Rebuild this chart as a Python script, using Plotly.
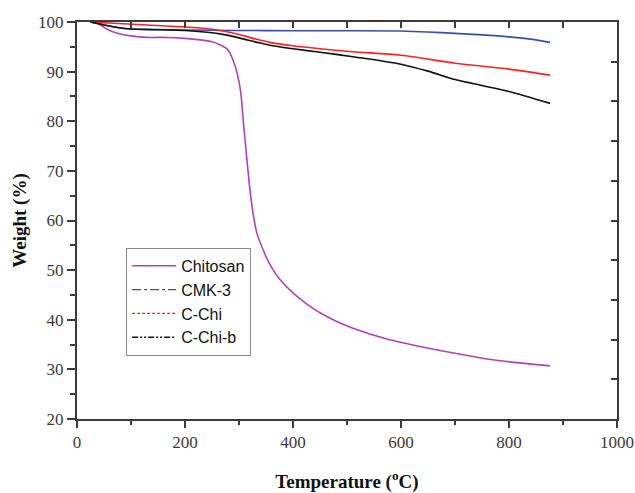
import plotly.graph_objects as go

# Thermogravimetric curves: temperature (°C) vs. remaining weight (%)
chitosan_t = [25, 40, 52, 65, 80, 100, 130, 160, 200, 228, 250, 265, 280, 290, 297, 303, 308, 314, 320, 326, 333, 345, 355, 367, 380, 400, 425, 450, 480, 511, 574, 635, 697, 759, 820, 876]
chitosan_w = [100, 99.6, 98.8, 98.1, 97.6, 97.2, 96.9, 96.9, 96.7, 96.4, 96.0, 95.4, 94.3, 92.0, 89.5, 86.0, 80.0, 73.0, 66.5, 61.5, 57.5, 54.0, 51.6, 49.4, 47.6, 45.4, 43.2, 41.4, 39.7, 38.3, 36.1, 34.6, 33.3, 32.1, 31.3, 30.7]

cmk3_t = [25, 50, 75, 100, 150, 200, 300, 400, 500, 600, 650, 700, 750, 800, 850, 876]
cmk3_w = [100, 99.4, 98.9, 98.6, 98.5, 98.4, 98.3, 98.25, 98.25, 98.2, 98.0, 97.7, 97.4, 97.0, 96.4, 95.9]

cchi_t = [25, 75, 130, 200, 246, 270, 300, 330, 357, 400, 450, 511, 600, 700, 800, 876]
cchi_w = [100, 99.7, 99.4, 99.0, 98.6, 98.2, 97.5, 96.6, 95.9, 95.2, 94.6, 94.0, 93.3, 91.7, 90.5, 89.3]

cchib_t = [25, 50, 75, 100, 200, 246, 270, 300, 330, 357, 400, 450, 511, 600, 650, 700, 750, 800, 876]
cchib_w = [100, 99.4, 98.9, 98.6, 98.3, 97.9, 97.5, 96.8, 96.0, 95.3, 94.6, 93.9, 93.0, 91.5, 90.1, 88.4, 87.2, 86.0, 83.6]

series = [
    ("Chitosan", chitosan_t, chitosan_w, "#b342b3", "solid"),
    ("CMK-3", cmk3_t, cmk3_w, "#3551b0", "dashdot"),
    ("C-Chi", cchi_t, cchi_w, "#ff1f1f", "3px,2px"),
    ("C-Chi-b", cchib_t, cchib_w, "#111111", "6px,2px,2px,2px,2px,2px"),
]

fig = go.Figure()

# curves drawn as continuous lines
for name, t, w, color, dash in series:
    fig.add_trace(go.Scatter(
        x=t, y=w, mode="lines", name=name, showlegend=False,
        line=dict(color=color, width=1.6, shape="spline", smoothing=0.8),
    ))

# legend keys with the dash style of each series
for name, t, w, color, dash in series:
    fig.add_trace(go.Scatter(
        x=[None], y=[None], mode="lines", name=name,
        line=dict(color=color, width=1.4, dash=dash),
    ))

serif = "Liberation Serif"
axis_color = "#3c3c3c"
tick_font = dict(family=serif, size=17, color="#3a3a3a")
title_font = dict(family=serif, size=19, color="#111111")

fig.update_layout(
    width=635, height=493,
    margin=dict(l=77, r=18, t=22, b=74, autoexpand=False),
    font=dict(family=serif, size=17, color="#333333"),
    paper_bgcolor="white", plot_bgcolor="white",
    showlegend=True,
    legend=dict(
        x=0.091, y=0.431, xanchor="left", yanchor="top",
        bgcolor="white", bordercolor="#8a8a8a", borderwidth=1,
        font=dict(family="Liberation Sans", size=16, color="#111111"),
        tracegroupgap=0, itemwidth=44,
    ),
    xaxis=dict(
        range=[0, 1000], dtick=200, tick0=0, automargin=False,
        showgrid=False, zeroline=False,
        showline=True, linecolor=axis_color, linewidth=2,
        ticks="outside", ticklen=7, tickwidth=2, tickcolor=axis_color,
        minor=dict(dtick=100, ticks="outside", ticklen=4, tickwidth=2, tickcolor=axis_color),
        tickfont=tick_font,
        title=dict(text="<b>Temperature (<sup>o</sup>C)</b>", font=title_font, standoff=24),
    ),
    yaxis=dict(
        range=[20, 100], dtick=10, tick0=20, automargin=False,
        showgrid=False, zeroline=False,
        showline=True, linecolor=axis_color, linewidth=2,
        ticks="outside", ticklen=8, tickwidth=2, tickcolor=axis_color,
        minor=dict(dtick=5, ticks="outside", ticklen=5, tickwidth=2, tickcolor=axis_color),
        tickfont=tick_font,
        title=dict(text="<b>Weight (%)</b>", font=title_font, standoff=6),
    ),
    # top frame: inward ticks every 100 °C
    xaxis2=dict(
        overlaying="x", side="top", anchor="y",
        range=[0, 1000], dtick=100, tick0=0,
        showgrid=False, zeroline=False, showticklabels=False,
        tickfont=tick_font,
        showline=True, linecolor=axis_color, linewidth=2,
        ticks="inside", ticklen=6, tickwidth=2, tickcolor=axis_color,
    ),
    # right frame: inward ticks in ten divisions
    yaxis2=dict(
        overlaying="y", side="right", anchor="x",
        range=[20, 100], dtick=8, tick0=20,
        showgrid=False, zeroline=False, showticklabels=False,
        tickfont=tick_font,
        showline=True, linecolor=axis_color, linewidth=2,
        ticks="inside", ticklen=6, tickwidth=2, tickcolor=axis_color,
    ),
)

# invisible anchor trace so the top and right frame axes are drawn
fig.add_trace(go.Scatter(x=[None], y=[None], xaxis="x2", yaxis="y2", showlegend=False, hoverinfo="skip"))

fig.write_html("out.html")
